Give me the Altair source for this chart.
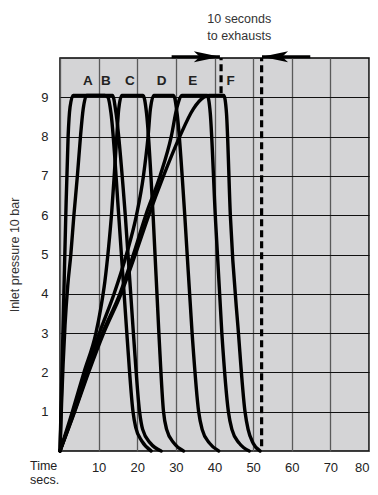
import altair as alt
import pandas as pd

# ---- curve data (time s, inlet pressure bar) ----
A_t = [0, 0.5, 1.0, 1.5, 2.1, 2.6, 3.4, 6, 9, 11.6, 12.4, 13.2, 15.2, 17.3, 18.9, 19.6, 21.2, 23.6]
A_p = [0, 2.0, 4.0, 6.0, 8.0, 8.75, 9.05, 9.05, 9.05, 9.05, 9.0, 8.6, 6.0, 3.0, 1.0, 0.6, 0.25, 0]

B_t = [0, 0.4, 0.8, 1.3, 2.0, 2.8, 3.6, 4.5, 5.3, 6.0, 6.9, 9, 12, 13.6, 14.5, 16.9, 19.0, 20.6, 21.4, 23.4, 26.2]
B_p = [0, 1.2, 2.2, 3.2, 4.2, 5.0, 6.0, 7.0, 8.0, 8.7, 9.05, 9.05, 9.05, 9.05, 8.6, 6.0, 3.0, 1.0, 0.55, 0.2, 0]

C_t = [0, 3.2, 6.2, 9.3, 10.5, 11.6, 12.6, 13.4, 14.1, 14.7, 15.2, 16.0, 19, 21.5, 22.4, 24.1, 25.6, 26.8, 27.6, 29.5, 32.0]
C_p = [0, 1.0, 2.0, 3.0, 3.6, 4.3, 5.2, 6.1, 7.1, 8.0, 8.7, 9.05, 9.05, 9.05, 8.6, 6.0, 3.0, 1.0, 0.55, 0.2, 0]

D_t = [0, 3.5, 6.8, 10.2, 14.0, 17.2, 19.8, 21.6, 22.8, 23.4, 24.3, 27, 29.4, 30.3, 32.3, 34.2, 35.9, 36.8, 38.7, 41.1]
D_p = [0, 1.0, 2.0, 3.0, 4.0, 5.0, 6.0, 7.0, 8.0, 8.7, 9.05, 9.05, 9.05, 8.6, 6.0, 3.0, 1.0, 0.55, 0.2, 0]

E_t = [0, 3.7, 7.2, 11.0, 15.5, 19.0, 22.2, 25.9, 28.8, 30.3, 31.6, 35, 38.1, 38.9, 40.2, 41.9, 43.6, 44.5, 46.4, 49.0]
E_p = [0, 1.0, 2.0, 3.0, 4.0, 5.0, 6.0, 7.0, 8.0, 8.75, 9.05, 9.05, 9.05, 8.6, 6.0, 3.0, 1.0, 0.55, 0.2, 0]

F_t = [0, 3.8, 7.4, 11.3, 15.8, 19.5, 23.0, 26.8, 31.0, 34.5, 37.2, 38.6, 42.4, 43.1, 44.1, 46.2, 47.9, 48.7, 50.0, 51.8]
F_p = [0, 1.0, 2.0, 3.0, 4.0, 5.0, 6.0, 7.0, 8.0, 8.7, 9.0, 9.05, 9.05, 8.6, 6.0, 3.0, 1.0, 0.55, 0.2, 0]

# curve letters
letters = ["A", "B", "C", "D", "E", "F"]
letter_t = [7.2, 11.9, 18.1, 26.3, 34.4, 44.2]
letter_p = [9.42, 9.42, 9.42, 9.42, 9.42, 9.42]

# dashed exhaust markers
dash_t = [41.7, 52.2]
dash_p0 = [9.1, 0.12]
dash_p1 = [10.0, 10.0]

# arrows "10 seconds to exhausts"
arrow_tail = [28.9, 64.8]
arrow_tip = [41.4, 52.3]
arrow_p = [10.03, 10.03]

note_lines = ["10 seconds", "to exhausts"]
note_t = [46.4, 46.4]
note_p = [11.0, 10.57]

x_ticks = [0, 10, 20, 30, 40, 50, 60, 70, 80]
y_ticks = [1, 2, 3, 4, 5, 6, 7, 8, 9]

rows = []
for name, ts, ps in [("A", A_t, A_p), ("B", B_t, B_p), ("C", C_t, C_p),
                     ("D", D_t, D_p), ("E", E_t, E_p), ("F", F_t, F_p)]:
    for i, (t, p) in enumerate(zip(ts, ps)):
        rows.append({"curve": name, "t": t, "p": p, "i": i})
curves = pd.DataFrame(rows)

FONT = "Liberation Sans"
xs = alt.Scale(domain=[0, 80], nice=False, zero=False)
ys = alt.Scale(domain=[0, 10], nice=False, zero=False)

x_axis = alt.Axis(
    values=x_ticks, title=None, grid=True, gridColor="#5a5a5a", gridWidth=1.3,
    ticks=False, domain=False, labelFontSize=13, labelColor="#222",
    labelFont=FONT, labelPadding=10, labelOverlap=False, labelFlush=False,
    labelAlign={"condition": {"test": "datum.value == 80", "value": "right"},
                "value": "center"},
    labelExpr="datum.value == 0 ? '' : datum.label")
y_axis = alt.Axis(
    values=y_ticks, title="Inlet pressure 10 bar", grid=True, gridColor="#111",
    gridWidth=1.2, ticks=False, domain=False, labelFontSize=13,
    labelColor="#222", labelFont=FONT, labelPadding=12, labelOverlap=False,
    labelFlush=False, titleFont=FONT, titleFontSize=12.5,
    titleFontWeight="normal", titleColor="#333", titlePadding=19)


def X(field):
    return alt.X(field, scale=xs, axis=x_axis)


def Y(field):
    return alt.Y(field, scale=ys, axis=y_axis)


lines = alt.Chart(curves).mark_line(
    color="black", strokeWidth=3.4, interpolate="monotone",
    strokeCap="round", strokeJoin="round"
).encode(x=X("t:Q"), y=Y("p:Q"), detail="curve:N", order="i:Q")

lab_df = pd.DataFrame({"l": letters, "t": letter_t, "p": letter_p})
labels = alt.Chart(lab_df).mark_text(
    font=FONT, fontSize=13.5, fontWeight="bold", color="#222", baseline="middle"
).encode(x=X("t:Q"), y=Y("p:Q"), text="l:N")

dash_df = pd.DataFrame({"t": dash_t, "p0": dash_p0, "p1": dash_p1})
dashes = alt.Chart(dash_df).mark_rule(
    color="black", strokeWidth=3.2, strokeDash=[7, 4]
).encode(x=X("t:Q"), y=Y("p0:Q"), y2="p1:Q")

arr_df = pd.DataFrame({"a": arrow_tail, "b": arrow_tip, "p": arrow_p,
                       "dir": ["right", "left"]})
shafts = alt.Chart(arr_df).mark_rule(color="black", strokeWidth=3).encode(
    x=X("a:Q"), x2="b:Q", y=Y("p:Q"))

head_r = alt.Chart(arr_df[arr_df["dir"] == "right"]).mark_point(
    shape="M0,0 L-2,-0.42 L-1.55,0 L-2,0.42 Z", size=680, filled=True,
    color="black", opacity=1, strokeWidth=0
).encode(x=X("b:Q"), y=Y("p:Q"))
head_l = alt.Chart(arr_df[arr_df["dir"] == "left"]).mark_point(
    shape="M0,0 L2,-0.42 L1.55,0 L2,0.42 Z", size=680, filled=True,
    color="black", opacity=1, strokeWidth=0
).encode(x=X("b:Q"), y=Y("p:Q"))

note_df = pd.DataFrame({"s": note_lines, "t": note_t, "p": note_p})
notes = alt.Chart(note_df).mark_text(
    font=FONT, fontSize=12.5, color="#333", baseline="middle"
).encode(x=X("t:Q"), y=Y("p:Q"), text="s:N")

time_df = pd.DataFrame({"s": ["Time", "secs."], "t": [0, 0], "p": [0, 0]})
time_a = alt.Chart(time_df.iloc[[0]]).mark_text(
    font=FONT, fontSize=12.5, color="#222", align="left", baseline="alphabetic",
    dx=-30, dy=19
).encode(x=X("t:Q"), y=Y("p:Q"), text="s:N")
time_b = alt.Chart(time_df.iloc[[1]]).mark_text(
    font=FONT, fontSize=12.5, color="#222", align="left", baseline="alphabetic",
    dx=-30, dy=33
).encode(x=X("t:Q"), y=Y("p:Q"), text="s:N")

chart = alt.layer(
    lines, dashes, labels, shafts, head_r, head_l, notes, time_a, time_b
).properties(
    width=309, height=393,
    autosize=alt.AutoSizeParams(type="none"),
    padding={"left": 52, "top": 50, "right": 1, "bottom": 36},
).configure_view(
    fill="#d4d4d6", stroke="black", strokeWidth=1.5
)

chart.save("out.html", embed_options={"renderer": "svg", "actions": False})
